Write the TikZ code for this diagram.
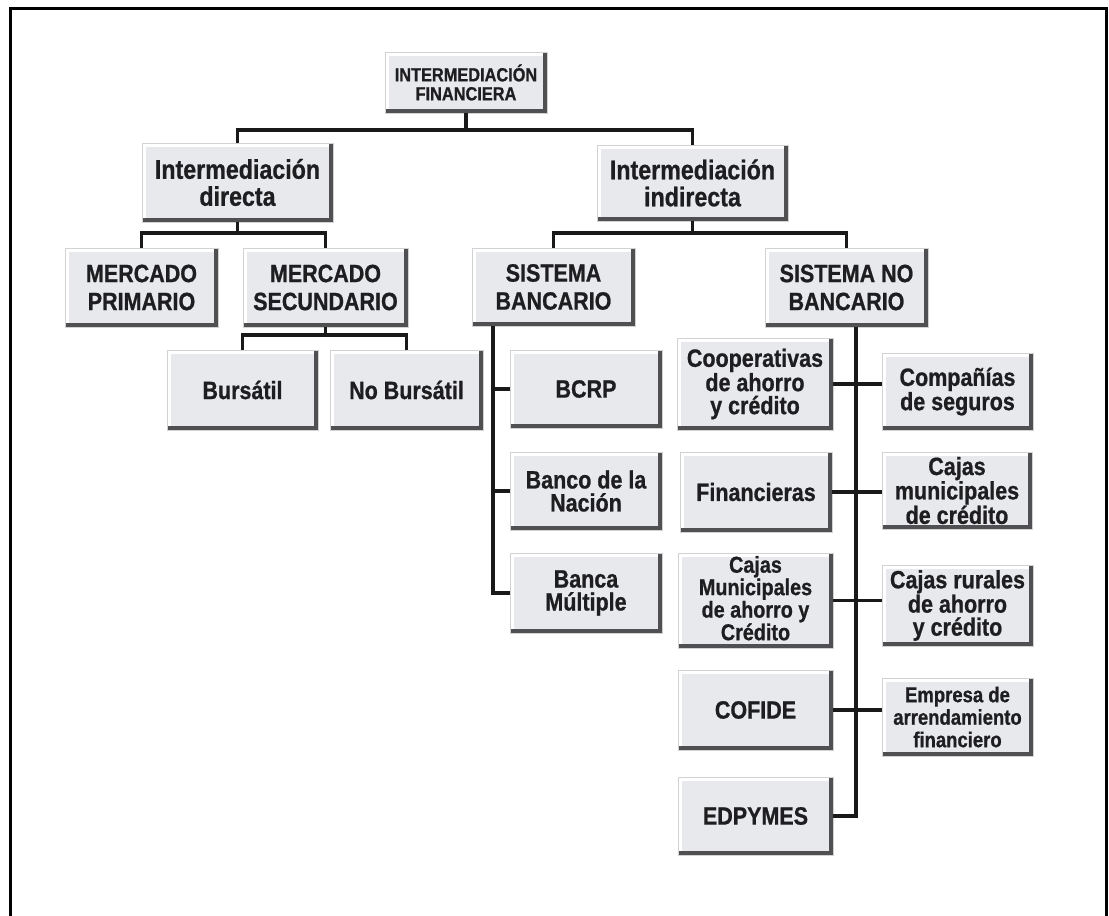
\documentclass[tikz,border=0pt]{standalone}
\usepackage{fontspec}
\usetikzlibrary{positioning}
\newfontfamily\boxfont{Liberation Sans Bold}[FakeStretch=0.86, FakeBold=0.8]
\definecolor{boxfill}{RGB}{232,233,236}
\definecolor{boxdark}{RGB}{80,80,82}
\definecolor{boxtext}{RGB}{30,30,32}
\tikzset{box/.style = {rectangle, fill=boxfill, draw=gray!35, line width=0.6pt,
                       align=center, inner sep=2pt, text=boxtext,
                       path picture={
                         \draw [white, line width=7pt] (path picture bounding box.south west)
                           -- (path picture bounding box.north west) -- (path picture bounding box.north east);
                         \draw [boxdark, line width=9pt] (path picture bounding box.north east)
                           -- (path picture bounding box.south east) -- (path picture bounding box.south west);}},
         topbox/.style = {box, font={\boxfont\fontsize{19}{19}\selectfont}},
         bigbox/.style = {box, font={\boxfont\fontsize{27}{27}\selectfont}},
         capbox/.style = {box, font={\boxfont\fontsize{25}{28}\selectfont}},
         smallbox/.style = {box, font={\boxfont\fontsize{25}{23}\selectfont}},
         tightbox/.style = {box, font={\boxfont\fontsize{23}{21}\selectfont}},
         link/.style = {draw=black!90, line width=3.5pt}}

\begin{document}
\begin{tikzpicture}[x=1pt, y=-1pt]
      \useasboundingbox (0,0) rectangle (1109,916);
      \draw [line width=3pt] (10,917) -- (10,8) -- (1106,8) -- (1106,917);

      % tree head
      \node [topbox, minimum width=162, minimum height=61] (fin) at (466,82.5) {INTERMEDIACIÓN\\FINANCIERA};
      \node [bigbox, minimum width=191, minimum height=79] (dir) at (237.5,182.5) {Intermediación\\directa};
      \node [bigbox, minimum width=191, minimum height=76] (ind) at (692.5,183) {Intermediación\\indirecta};

      % direct side
      \node [capbox, minimum width=153, minimum height=79] (prim) at (141.5,287.5) {MERCADO\\PRIMARIO};
      \node [capbox, minimum width=165, minimum height=79] (sec) at (325.5,287.5) {MERCADO\\SECUNDARIO};
      \node [smallbox, minimum width=151, minimum height=80] (bur) at (242.5,390) {Bursátil};
      \node [smallbox, minimum width=153, minimum height=80] (nobur) at (406.5,390) {No Bursátil};

      % indirect side
      \node [capbox, minimum width=163, minimum height=78] (sb) at (553.5,287) {SISTEMA\\BANCARIO};
      \node [capbox, minimum width=163, minimum height=79] (snb) at (846.5,287.5) {SISTEMA NO\\BANCARIO};

      \node [smallbox, minimum width=152, minimum height=78] (bcrp) at (586,389) {BCRP};
      \node [smallbox, minimum width=152, minimum height=78] (bn) at (586,491) {Banco de la\\Nación};
      \node [smallbox, minimum width=152, minimum height=80] (bm) at (586,593) {Banca\\Múltiple};

      \node [smallbox, minimum width=156, minimum height=92] (coop) at (755,384) {Cooperativas\\de ahorro\\y crédito};
      \node [smallbox, minimum width=152, minimum height=80] (fina) at (756,492) {Financieras};
      \node [tightbox, minimum width=155, minimum height=95] (cajm) at (755.5,600.5) {Cajas\\Municipales\\de ahorro y\\Crédito\vphantom{y}};
      \node [smallbox, minimum width=155, minimum height=80] (cofide) at (755.5,710) {COFIDE};
      \node [smallbox, minimum width=155, minimum height=78] (edp) at (755.5,816) {EDPYMES};

      \node [smallbox, minimum width=151, minimum height=77] (comp) at (957.5,391.5) {Compañías\\de seguros};
      \node [smallbox, minimum width=150, minimum height=77] (cajmc) at (957,490.5) {Cajas\\municipales\\de crédito};
      \node [smallbox, minimum width=151, minimum height=81] (cajr) at (957.5,605.5) {Cajas rurales\\de ahorro\\y crédito};
      \node [box, font={\boxfont\fontsize{21.5}{22.5}\selectfont}, minimum width=151, minimum height=78] (emp) at (957.5,717) {Empresa de\\arrendamiento\\financiero};

      % connectors
      \coordinate (l1) at (0,130);
      \coordinate (l2) at (0,233);
      \coordinate (l3) at (0,335);
      \coordinate (sbx) at (493,0);
      \coordinate (snbx) at (856,0);

      \draw [link] (fin.south) -- (fin.south |- l1);
      \draw [link] (dir.north) -- (dir.north |- l1) -| (ind.north);

      \draw [link] (dir.south) -- (dir.south |- l2);
      \draw [link] (prim.north) -- (prim.north |- l2) -| (sec.north);
      \draw [link] (sec.south) -- (sec.south |- l3);
      \draw [link] (bur.north) -- (bur.north |- l3) -| (nobur.north);

      \draw [link] (ind.south) -- (ind.south |- l2);
      \draw [link] (sb.north) -- (sb.north |- l2) -| (snb.north);

      \draw [link] (sb.south -| sbx) |- (bm.west);
      \foreach \b in {bcrp, bn}
        \draw [link] (sbx |- \b.west) -- (\b.west);

      \draw [link] (snb.south -| snbx) |- (edp.east);
      \foreach \l/\r in {coop/comp, fina/cajmc, cajm/cajr, cofide/emp}
        \draw [link] (\l.east) -- (\l.east -| \r.west);
    \end{tikzpicture}
\end{document}
